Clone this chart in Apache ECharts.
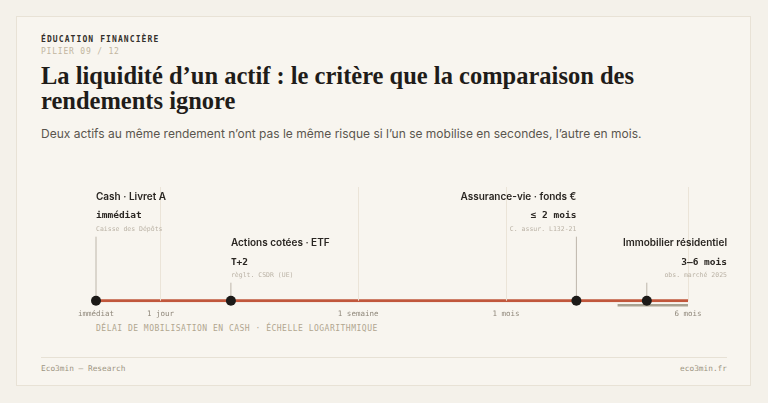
<!DOCTYPE html>
<html><head><meta charset="utf-8">
<script src="https://cdn.jsdelivr.net/npm/echarts@6/dist/echarts.min.js"></script>
<style>
html,body{margin:0;padding:0;width:768px;height:403px;background:#f4f1ea;overflow:hidden;}
#card{position:absolute;left:16px;top:16px;width:735px;height:370px;border:1px solid #e8e2d6;background:#f8f5ef;box-sizing:border-box;}
#chart{position:absolute;left:0;top:0;width:768px;height:403px;}
.t{position:absolute;white-space:nowrap;}
.mono{font-family:"DejaVu Sans Mono",monospace;}
#kicker{left:41px;top:35px;font-size:8px;line-height:10px;font-weight:bold;letter-spacing:1.1px;color:#34302b;}
#pilier{left:41px;top:47px;font-size:8px;line-height:10px;letter-spacing:0.8px;color:#c2b69f;}
#title{left:41px;top:63px;font-family:"Liberation Serif",serif;font-size:24.5px;line-height:25px;font-weight:bold;color:#1f1c19;}
#sub{left:41px;top:127px;font-family:Inter,sans-serif;font-size:12px;line-height:14px;color:#5a554e;}
#axtitle{left:96px;top:324px;font-size:8px;line-height:10px;letter-spacing:0.5px;color:#b1a68f;}
#sep{position:absolute;left:41px;top:357px;width:686px;height:1px;background:#e7e1d5;}
#foot1{left:41px;top:364px;font-size:7.8px;line-height:10px;color:#9c9481;}
#foot2{right:41px;top:364px;font-size:7.8px;line-height:10px;color:#9c9481;}
</style></head>
<body>
<div id="card"></div>
<div class="t mono" id="kicker">ÉDUCATION FINANCIÈRE</div>
<div class="t mono" id="pilier">PILIER 09 / 12</div>
<div class="t" id="title">La liquidité d’un actif : le critère que la comparaison des<br>rendements ignore</div>
<div class="t" id="sub">Deux actifs au même rendement n’ont pas le même risque si l’un se mobilise en secondes, l’autre en mois.</div>
<div class="t mono" id="axtitle">DÉLAI DE MOBILISATION EN CASH · ÉCHELLE LOGARITHMIQUE</div>
<div id="sep"></div>
<div class="t mono" id="foot1">Eco3min — Research</div>
<div class="t mono" id="foot2">eco3min.fr</div>
<div id="chart"></div>
<script>
// ---- data ----
const assets = ['Cash · Livret A', 'Actions cotées · ETF', 'Assurance-vie · fonds €', 'Immobilier résidentiel'];
const delayDays = [0.53, 2, 60, 120];
const delayLabels = ['immédiat', 'T+2', '≤ 2 mois', '3–6 mois'];
const sources = ['Caisse des Dépôts', 'règlt. CSDR (UE)', 'C. assur. L132-21', 'obs. marché 2025'];
const rangeLow = [null, null, null, 90];
const rangeHigh = [null, null, null, 180];
const tickValues = [0.53, 1, 7, 30, 180];
const tickLabels = ['immédiat', '1 jour', '1 semaine', '1 mois', '6 mois'];
const gridValues = [1, 7, 30, 180];
const axisMin = 0.53, axisMax = 180;

const chart = echarts.init(document.getElementById('chart'), null, {renderer: 'canvas'});
const MONO = '"DejaVu Sans Mono", monospace';
const SANS = 'Inter, sans-serif';

function renderItem(params, api) {
  const i = params.dataIndex;
  const n = assets.length;
  const p = api.coord([api.value(0), 0]);
  const tier = i % 2;
  const children = [];
  if (rangeLow[i] != null) {
    const a = api.coord([rangeLow[i], 0]);
    const b = api.coord([rangeHigh[i], 0]);
    children.push({type: 'line', shape: {x1: a[0], y1: p[1] + 4.5, x2: b[0], y2: p[1] + 4.5},
      style: {stroke: '#a9a291', lineWidth: 2.5}});
  }
  children.push({type: 'line', shape: {x1: p[0], y1: p[1], x2: p[0], y2: p[1] - (tier ? 18 : 64)},
    style: {stroke: '#bdb6aa', lineWidth: 1}});
  children.push({type: 'circle', shape: {cx: p[0], cy: p[1], r: 5}, style: {fill: '#1c1a18'}, z2: 10});
  const right = i >= 2;
  const tx = (i === n - 1) ? api.getWidth() - 41 : p[0];
  const align = right ? 'right' : 'left';
  const base = tier ? [-57.5, -38.5, -25.5] : [-103.5, -85.5, -71.5];
  children.push({type: 'text', style: {text: assets[i], x: tx, y: p[1] + base[0], textAlign: align, textVerticalAlign: 'middle',
    font: '600 10px ' + SANS, fill: '#2a2622'}});
  children.push({type: 'text', style: {text: delayLabels[i], x: tx, y: p[1] + base[1], textAlign: align, textVerticalAlign: 'middle',
    font: 'bold 9.5px ' + MONO, fill: '#2a2622'}});
  children.push({type: 'text', style: {text: sources[i], x: tx, y: p[1] + base[2], textAlign: align, textVerticalAlign: 'middle',
    font: '6.5px ' + MONO, fill: '#bbb3a6'}});
  return {type: 'group', children};
}

chart.setOption({
  animation: false,
  grid: {left: 96, right: 80, top: 187, bottom: 102.3},
  xAxis: {
    type: 'log', min: axisMin, max: axisMax, logBase: 10,
    axisLine: {show: false}, axisTick: {show: false}, splitLine: {show: false},
    axisLabel: {
      customValues: tickValues, margin: 9,
      fontFamily: MONO, fontSize: 7.5, color: '#8f877a',
      formatter: function (v) {
        let best = 0, d = Infinity;
        tickValues.forEach((t, k) => { const dd = Math.abs(Math.log(t) - Math.log(v)); if (dd < d) { d = dd; best = k; } });
        return tickLabels[best];
      }
    }
  },
  yAxis: {type: 'value', min: 0, max: 1, show: false},
  series: [
    {
      type: 'line', silent: true, symbol: 'none',
      data: [[axisMin, 0], [axisMax, 0]],
      lineStyle: {color: '#c1573c', width: 3},
      markLine: {
        silent: true, symbol: 'none', label: {show: false},
        lineStyle: {color: '#ebe4d8', width: 1, type: 'solid'},
        data: gridValues.map(v => ({xAxis: v}))
      },
      z: 2
    },
    {
      type: 'custom', renderItem: renderItem, silent: true,
      data: delayDays.map(v => [v, 0]), z: 5
    }
  ]
});
</script>
</body></html>
